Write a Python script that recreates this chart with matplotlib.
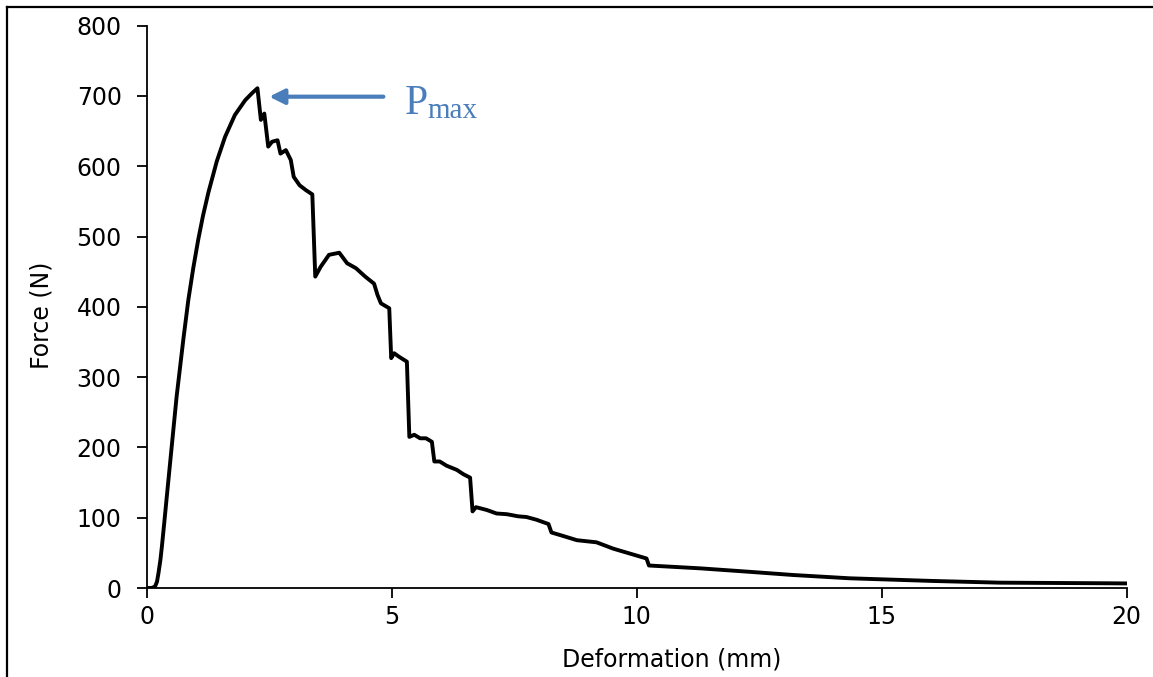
import matplotlib
matplotlib.use("Agg")
import matplotlib.pyplot as plt
from matplotlib.lines import Line2D

# Data
deformation_mm = [0.00, 0.10, 0.17, 0.21, 0.24, 0.28, 0.31, 0.36, 0.41, 0.51,
                  0.61, 0.75, 0.85, 0.95, 1.05, 1.15, 1.26, 1.43, 1.60, 1.80,
                  2.01, 2.15, 2.26,
                  2.33, 2.40, 2.48, 2.56, 2.67, 2.73, 2.84, 2.94, 3.00, 3.12,
                  3.25, 3.38, 3.44, 3.55, 3.72, 3.93, 4.09, 4.27, 4.46, 4.64,
                  4.71, 4.78, 4.95, 4.99, 5.05, 5.15, 5.31, 5.36, 5.46, 5.58,
                  5.70, 5.82, 5.87, 5.98, 6.12, 6.33, 6.46, 6.60, 6.65, 6.72,
                  6.94, 7.14, 7.35, 7.58, 7.75, 7.96, 8.20, 8.26, 8.50, 8.78,
                  9.18, 9.52, 9.86, 10.20, 10.25, 11.29, 12.31, 13.19, 14.35,
                  16.05, 17.41, 19.66, 20.00]
force_N = [0, 0, 2, 9, 21, 40, 59, 94, 130, 201,
           272, 355, 410, 455, 495, 530, 563, 607, 642, 673,
           694, 704, 711,
           666, 675, 628, 635, 637, 618, 623, 609, 585, 573,
           566, 560, 443, 457, 474, 477, 462, 455, 443, 433,
           417, 405, 398, 327, 334, 329, 322, 215, 218, 213,
           213, 208, 180, 180, 174, 168, 162, 157, 109, 115,
           111, 106, 105, 102, 101, 97, 91, 79, 74, 68,
           65, 56, 49, 42, 32, 28, 23, 18.5, 13.8,
           10, 7.6, 6.7, 6.5]

x_ticks = [0, 5, 10, 15, 20]
y_ticks = [0, 100, 200, 300, 400, 500, 600, 700, 800]
x_label = "Deformation (mm)"
y_label = "Force (N)"
annot_text = "P"
annot_sub = "max"
annot_tip = (2.50, 699)
annot_tail = (4.83, 699)

blue = "#4A7EBB"
W, H = 1153, 677

fig = plt.figure(figsize=(W / 100, H / 100), dpi=100)
ax = fig.add_axes([146.7 / W, 1 - 588 / H, 980 / W, (588 - 25.7) / H])

ax.plot(deformation_mm, force_N, color="black", lw=2.8, solid_joinstyle="round")

ax.set_xlim(0, 20)
ax.set_ylim(0, 800)
ax.set_xticks(x_ticks)
ax.set_yticks(y_ticks)
for s in ["top", "right"]:
    ax.spines[s].set_visible(False)
for s in ["left", "bottom"]:
    ax.spines[s].set_linewidth(1.3)
ax.tick_params(axis="both", direction="out", length=7, width=1.3,
               labelsize=17, colors="black")
ax.tick_params(axis="y", pad=11)
ax.tick_params(axis="x", pad=5)

fig.text(672 / W, 1 - 660 / H, x_label, fontsize=17, ha="center", va="center")
fig.text(42 / W, 1 - 315 / H, y_label, fontsize=17, ha="center", va="center",
         rotation=90)

ax.annotate("", xy=annot_tip, xytext=annot_tail,
            arrowprops=dict(arrowstyle="-|>,head_length=0.9,head_width=0.45",
                            color=blue, lw=3.0, shrinkA=0, shrinkB=0))
ax.text(5.27, 675, annot_text, color=blue, fontsize=30,
        family="Liberation Serif", va="baseline", ha="left")
ax.text(5.72, 669, annot_sub, color=blue, fontsize=21,
        family="Liberation Serif", va="baseline", ha="left")

# Outer border (left and top edges visible in the reference)
fig.add_artist(Line2D([0.006, 0.006], [0.0, 0.9897], transform=fig.transFigure,
                      color="black", lw=1.6))
fig.add_artist(Line2D([0.006, 1.0], [0.9897, 0.9897], transform=fig.transFigure,
                      color="black", lw=1.6))

fig.savefig("out.png", dpi=100, facecolor="white")
